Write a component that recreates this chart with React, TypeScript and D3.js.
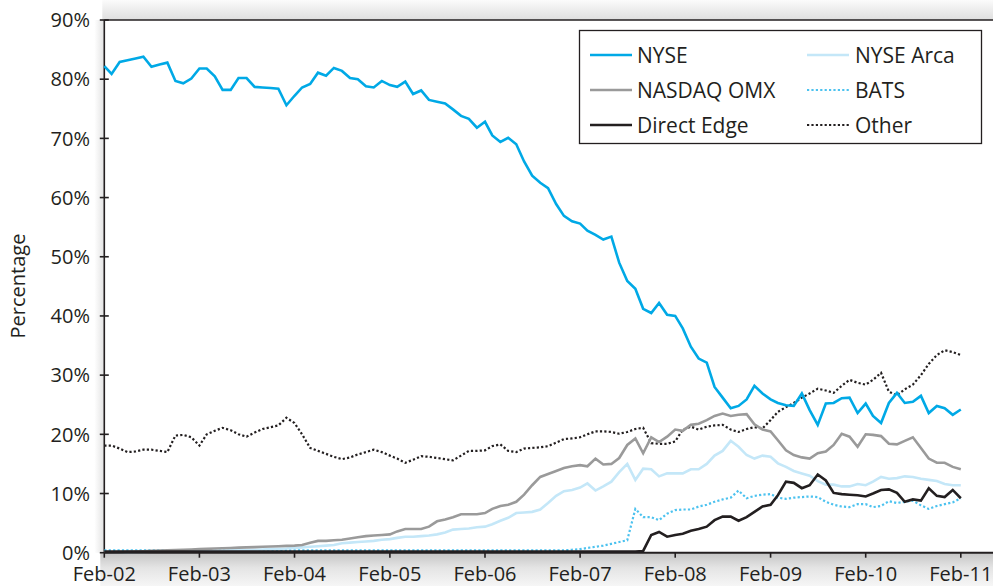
import React, { useRef, useEffect } from "react";
import * as d3 from "d3";

// monthly shares, Feb-02 .. Feb-11 (percent)
const yearLabels = ["Feb-02", "Feb-03", "Feb-04", "Feb-05", "Feb-06", "Feb-07", "Feb-08", "Feb-09", "Feb-10", "Feb-11"];
const yTicks = [0, 10, 20, 30, 40, 50, 60, 70, 80, 90];

const nyse = [
  82.2, 80.9, 82.9, 83.2, 83.5, 83.8, 82.1, 82.5, 82.8, 79.7, 79.3, 80.1,
  81.8, 81.8, 80.5, 78.2, 78.2, 80.2, 80.2, 78.7, 78.6, 78.5, 78.4, 75.6,
  77.2, 78.6, 79.2, 81.1, 80.6, 81.9, 81.4, 80.2, 80.0, 78.8, 78.6, 79.7,
  79.0, 78.7, 79.6, 77.5, 78.1, 76.5, 76.2, 75.9, 74.9, 73.8, 73.3, 71.8,
  72.8, 70.5, 69.4, 70.1, 69.0, 66.1, 63.7, 62.5, 61.6, 58.9, 56.9, 56.0,
  55.6, 54.4, 53.7, 52.9, 53.4, 49.0, 45.9, 44.6, 41.2, 40.5, 42.2, 40.2,
  40.0, 37.9, 34.8, 32.8, 32.1, 28.0, 26.2, 24.4, 24.8, 25.9, 28.2, 26.9,
  25.9, 25.3, 24.9, 24.8, 26.9, 24.1, 21.6, 25.2, 25.3, 26.1, 26.2, 23.6,
  25.2, 23.1, 21.9, 25.3, 27.0, 25.3, 25.5, 26.5, 23.6, 24.8, 24.4, 23.3, 24.2,
];

const nasdaq = [
  0.0, 0.05, 0.1, 0.15, 0.2, 0.25, 0.3, 0.35, 0.4, 0.45, 0.5, 0.55,
  0.6, 0.65, 0.7, 0.75, 0.8, 0.85, 0.9, 0.95, 1.0, 1.05, 1.1, 1.15,
  1.2, 1.3, 1.7, 2.0, 2.0, 2.1, 2.2, 2.4, 2.6, 2.8, 2.9, 3.0,
  3.1, 3.6, 4.0, 4.0, 4.0, 4.4, 5.3, 5.6, 6.0, 6.5, 6.5, 6.5,
  6.7, 7.4, 7.9, 8.1, 8.6, 9.8, 11.4, 12.8, 13.3, 13.8, 14.3, 14.6,
  14.8, 14.6, 15.9, 14.9, 15.0, 16.0, 18.2, 19.3, 16.8, 19.5, 18.7, 19.6,
  20.8, 20.6, 21.6, 21.8, 22.4, 23.1, 23.5, 23.1, 23.3, 23.4, 21.7, 20.8,
  20.5, 19.0, 17.3, 16.5, 16.1, 15.9, 16.8, 17.1, 18.2, 20.1, 19.6, 17.9,
  20.0, 19.9, 19.7, 18.4, 18.3, 18.9, 19.5, 17.7, 15.9, 15.2, 15.2, 14.5, 14.1,
];

const directEdge = [
  0.2, 0.2, 0.2, 0.2, 0.2, 0.2, 0.2, 0.2, 0.2, 0.2, 0.2, 0.2,
  0.2, 0.2, 0.2, 0.2, 0.2, 0.2, 0.2, 0.2, 0.2, 0.2, 0.2, 0.2,
  0.2, 0.2, 0.2, 0.2, 0.2, 0.2, 0.2, 0.2, 0.2, 0.2, 0.2, 0.2,
  0.2, 0.2, 0.2, 0.2, 0.2, 0.2, 0.2, 0.2, 0.2, 0.2, 0.2, 0.2,
  0.2, 0.2, 0.2, 0.2, 0.2, 0.2, 0.2, 0.2, 0.2, 0.2, 0.2, 0.2,
  0.2, 0.2, 0.2, 0.2, 0.2, 0.2, 0.2, 0.2, 0.3, 3.0, 3.5, 2.7,
  3.0, 3.2, 3.7, 4.0, 4.4, 5.5, 6.1, 6.1, 5.4, 6.0, 6.9, 7.8,
  8.1, 9.7, 12.0, 11.8, 10.9, 11.4, 13.2, 12.2, 10.1, 9.9, 9.8, 9.7,
  9.5, 10.0, 10.6, 10.7, 10.1, 8.6, 9.0, 8.8, 10.9, 9.6, 9.4, 10.6, 9.2,
];

const nyseArca = [
  0.0, 0.0, 0.05, 0.05, 0.1, 0.1, 0.15, 0.15, 0.2, 0.2, 0.25, 0.25,
  0.3, 0.3, 0.35, 0.35, 0.4, 0.4, 0.45, 0.5, 0.55, 0.6, 0.65, 0.7,
  0.8, 0.9, 1.0, 1.1, 1.2, 1.3, 1.6, 1.7, 1.8, 1.9, 2.0, 2.2,
  2.3, 2.5, 2.7, 2.7, 2.8, 2.9, 3.1, 3.4, 3.9, 4.0, 4.1, 4.3,
  4.4, 4.8, 5.4, 5.9, 6.7, 6.8, 6.9, 7.3, 8.4, 9.6, 10.4, 10.6,
  11.0, 11.7, 10.5, 11.2, 12.0, 13.6, 15.0, 12.3, 14.2, 14.1, 12.9, 13.4,
  13.4, 13.4, 14.1, 14.1, 15.0, 16.4, 17.2, 18.9, 17.9, 16.5, 15.9, 16.4,
  16.2, 15.1, 14.5, 13.8, 13.4, 13.0, 12.1, 11.5, 11.5, 11.2, 11.2, 11.6,
  11.4, 12.0, 12.8, 12.5, 12.6, 12.9, 12.8, 12.5, 12.3, 12.1, 11.6, 11.4, 11.4,
];

const bats = [
  0.4, 0.4, 0.4, 0.4, 0.4, 0.4, 0.4, 0.4, 0.4, 0.4, 0.4, 0.4,
  0.4, 0.4, 0.4, 0.4, 0.4, 0.4, 0.4, 0.4, 0.4, 0.4, 0.4, 0.4,
  0.4, 0.4, 0.4, 0.4, 0.4, 0.4, 0.4, 0.4, 0.4, 0.4, 0.4, 0.4,
  0.4, 0.4, 0.4, 0.4, 0.4, 0.4, 0.4, 0.4, 0.4, 0.4, 0.4, 0.4,
  0.4, 0.4, 0.4, 0.4, 0.4, 0.4, 0.4, 0.4, 0.4, 0.4, 0.4, 0.5,
  0.6, 0.8, 1.0, 1.2, 1.5, 1.8, 2.1, 7.4, 6.0, 6.0, 5.5, 6.6,
  7.2, 7.3, 7.3, 7.8, 8.1, 8.6, 9.0, 9.3, 10.5, 9.2, 9.6, 9.8,
  9.9, 9.3, 9.1, 9.3, 9.4, 9.5, 9.4, 8.6, 8.1, 7.8, 7.7, 8.2,
  8.2, 7.7, 7.9, 8.7, 8.4, 8.6, 8.8, 8.0, 7.4, 7.9, 8.2, 8.5, 9.2,
];

const other = [
  18.1, 18.1, 17.6, 17.0, 17.1, 17.4, 17.4, 17.2, 17.0, 19.8, 19.9, 19.5,
  18.1, 20.0, 20.6, 21.1, 20.7, 20.0, 19.6, 20.3, 20.9, 21.2, 21.5, 22.8,
  21.9, 20.0, 17.7, 17.2, 16.7, 16.2, 15.8, 16.1, 16.6, 17.0, 17.4, 17.0,
  16.4, 15.9, 15.2, 15.7, 16.3, 16.2, 16.0, 15.8, 15.6, 16.4, 17.2, 17.2,
  17.3, 18.0, 18.3, 17.2, 17.0, 17.6, 17.7, 17.8, 18.0, 18.6, 19.2, 19.3,
  19.5, 20.0, 20.5, 20.5, 20.4, 20.1, 20.4, 20.9, 21.1, 18.5, 18.4, 18.4,
  18.8, 20.8, 21.3, 20.8, 21.3, 21.5, 21.6, 20.8, 20.4, 20.9, 21.2, 21.0,
  22.4, 23.8, 24.6, 25.3, 26.2, 26.9, 27.7, 27.4, 27.0, 28.2, 29.2, 28.7,
  28.4, 29.2, 30.4, 27.2, 26.6, 27.6, 28.4, 30.0, 31.9, 33.4, 34.2, 33.9, 33.4,
];

interface Series {
  name: string;
  values: number[];
  color: string;
  width: number;
  dash: string | null;
}

const series: Series[] = [
  { name: "Other", values: other, color: "#231f20", width: 2.2, dash: "2.2,2.2" },
  { name: "BATS", values: bats, color: "#4cc2ef", width: 2.2, dash: "2.2,2.2" },
  { name: "NYSE Arca", values: nyseArca, color: "#c4e7f8", width: 2.6, dash: null },
  { name: "NASDAQ OMX", values: nasdaq, color: "#9a9a9a", width: 2.6, dash: null },
  { name: "Direct Edge", values: directEdge, color: "#231f20", width: 2.6, dash: null },
  { name: "NYSE", values: nyse, color: "#00a9e6", width: 2.6, dash: null },
];

// legend layout order: column 1 then column 2
const legendOrder = ["NYSE", "NASDAQ OMX", "Direct Edge", "NYSE Arca", "BATS", "Other"];

const W = 993;
const H = 586;
const FONT = "'Open Sans', 'DejaVu Sans', sans-serif";
const INK = "#231f20";

const App: React.FC = () => {
  const svgRef = useRef<SVGSVGElement | null>(null);

  useEffect(() => {
    if (!svgRef.current) return;
    const svg = d3.select(svgRef.current);
    svg.selectAll("*").remove();

    const start = new Date(2002, 1, 1);
    const end = new Date(2011, 1, 1);
    const months = d3.timeMonth.range(start, new Date(2011, 1, 2));

    const x = d3.scaleTime().domain([start, end]).range([104.3, 960.8]);
    const y = d3.scaleLinear().domain([0, 90]).range([552.7, 20]);
    const x0 = x(start);
    const y0 = y(0);
    const yTop = y(90);

    // shading round the plot card
    const defs = svg.append("defs");
    const gTop = defs.append("linearGradient").attr("id", "shTop").attr("x1", 0).attr("x2", 0).attr("y1", 0).attr("y2", 1);
    gTop.append("stop").attr("offset", "0%").attr("stop-color", "#fbfbfb");
    gTop.append("stop").attr("offset", "100%").attr("stop-color", "#dedede");
    const gBot = defs.append("linearGradient").attr("id", "shBot").attr("x1", 0).attr("x2", 0).attr("y1", 0).attr("y2", 1);
    gBot.append("stop").attr("offset", "0%").attr("stop-color", "#c4c4c4");
    gBot.append("stop").attr("offset", "45%").attr("stop-color", "#e4e4e4");
    gBot.append("stop").attr("offset", "100%").attr("stop-color", "#f6f6f6");
    const gLeft = defs.append("linearGradient").attr("id", "shLeft").attr("x1", 0).attr("x2", 1).attr("y1", 0).attr("y2", 0);
    gLeft.append("stop").attr("offset", "0%").attr("stop-color", "#ffffff");
    gLeft.append("stop").attr("offset", "100%").attr("stop-color", "#e2e2e2");

    svg.append("rect").attr("width", W).attr("height", H).attr("fill", "#ffffff");
    svg.append("rect").attr("x", x0 - 2).attr("y", 0).attr("width", W - x0 + 2).attr("height", yTop).attr("fill", "url(#shTop)");
    svg.append("rect").attr("x", x0 - 10).attr("y", yTop).attr("width", 10).attr("height", y0 - yTop).attr("fill", "url(#shLeft)");
    svg.append("rect").attr("x", x0 - 4).attr("y", y0).attr("width", W - x0 + 4).attr("height", H - y0).attr("fill", "url(#shBot)");

    // frame: top line and y axis
    svg.append("line").attr("x1", x0).attr("x2", W).attr("y1", yTop).attr("y2", yTop)
      .attr("stroke", INK).attr("stroke-width", 1.4);

    const yAxis = svg.append("g");
    yAxis.append("line").attr("x1", x0).attr("x2", x0).attr("y1", yTop).attr("y2", y0)
      .attr("stroke", INK).attr("stroke-width", 1.6);
    yAxis.selectAll(".ytick").data(yTicks).enter().append("line")
      .attr("x1", x0 - 4.5).attr("x2", x0 + 4.5)
      .attr("y1", (d) => y(d)).attr("y2", (d) => y(d))
      .attr("stroke", INK).attr("stroke-width", 1.6);
    yAxis.selectAll(".ylab").data(yTicks).enter().append("text")
      .attr("x", 90).attr("y", (d) => y(d)).attr("dy", "0.36em")
      .attr("text-anchor", "end").attr("font-family", FONT).attr("font-size", 20)
      .attr("fill", INK).text((d) => `${d}%`);

    svg.append("text")
      .attr("transform", `translate(25,286) rotate(-90)`)
      .attr("text-anchor", "middle").attr("font-family", FONT).attr("font-size", 20)
      .attr("fill", INK).text("Percentage");

    // lines
    const line = d3.line<number>()
      .x((_, i) => x(months[i]))
      .y((d) => y(d))
      .curve(d3.curveLinear);

    const lines = svg.append("g");
    series.forEach((s) => {
      const p = lines.append("path")
        .attr("d", line(s.values) || "")
        .attr("fill", "none")
        .attr("stroke", s.color)
        .attr("stroke-width", s.width)
        .attr("stroke-linejoin", "miter");
      if (s.dash) p.attr("stroke-dasharray", s.dash);
    });

    // x axis
    const febs = yearLabels.map((_, i) => new Date(2002 + i, 1, 1));
    const xAxis = svg.append("g");
    xAxis.append("line").attr("x1", x0).attr("x2", W).attr("y1", y0).attr("y2", y0)
      .attr("stroke", INK).attr("stroke-width", 2);
    xAxis.selectAll(".xtick").data(febs).enter().append("line")
      .attr("x1", (d) => x(d)).attr("x2", (d) => x(d))
      .attr("y1", y0).attr("y2", y0 + 5)
      .attr("stroke", INK).attr("stroke-width", 1.6);
    xAxis.selectAll(".xlab").data(febs).enter().append("text")
      .attr("x", (d) => x(d)).attr("y", 581)
      .attr("text-anchor", "middle").attr("font-family", FONT).attr("font-size", 20)
      .attr("fill", INK).text((_, i) => yearLabels[i]);

    // legend
    const lg = svg.append("g");
    lg.append("rect").attr("x", 579.5).attr("y", 30.5).attr("width", 402).attr("height", 113)
      .attr("fill", "#ffffff").attr("stroke", INK).attr("stroke-width", 1.3);
    legendOrder.forEach((name, k) => {
      const s = series.find((d) => d.name === name)!;
      const col = Math.floor(k / 3);
      const row = k % 3;
      const lx = col === 0 ? 590 : 807;
      const tx = col === 0 ? 637 : 855;
      const ly = 55 + row * 35;
      const l = lg.append("line").attr("x1", lx).attr("x2", lx + 42).attr("y1", ly).attr("y2", ly)
        .attr("stroke", s.color).attr("stroke-width", s.width);
      if (s.dash) l.attr("stroke-dasharray", s.dash);
      lg.append("text").attr("x", tx).attr("y", ly).attr("dy", "0.36em")
        .attr("font-family", FONT).attr("font-size", 21).attr("fill", INK).text(s.name);
    });
  }, []);

  return (
    <div style={{ position: "absolute", left: 0, top: 0 }}>
      <svg ref={svgRef} width={W} height={H}></svg>
    </div>
  );
};

export default App;
